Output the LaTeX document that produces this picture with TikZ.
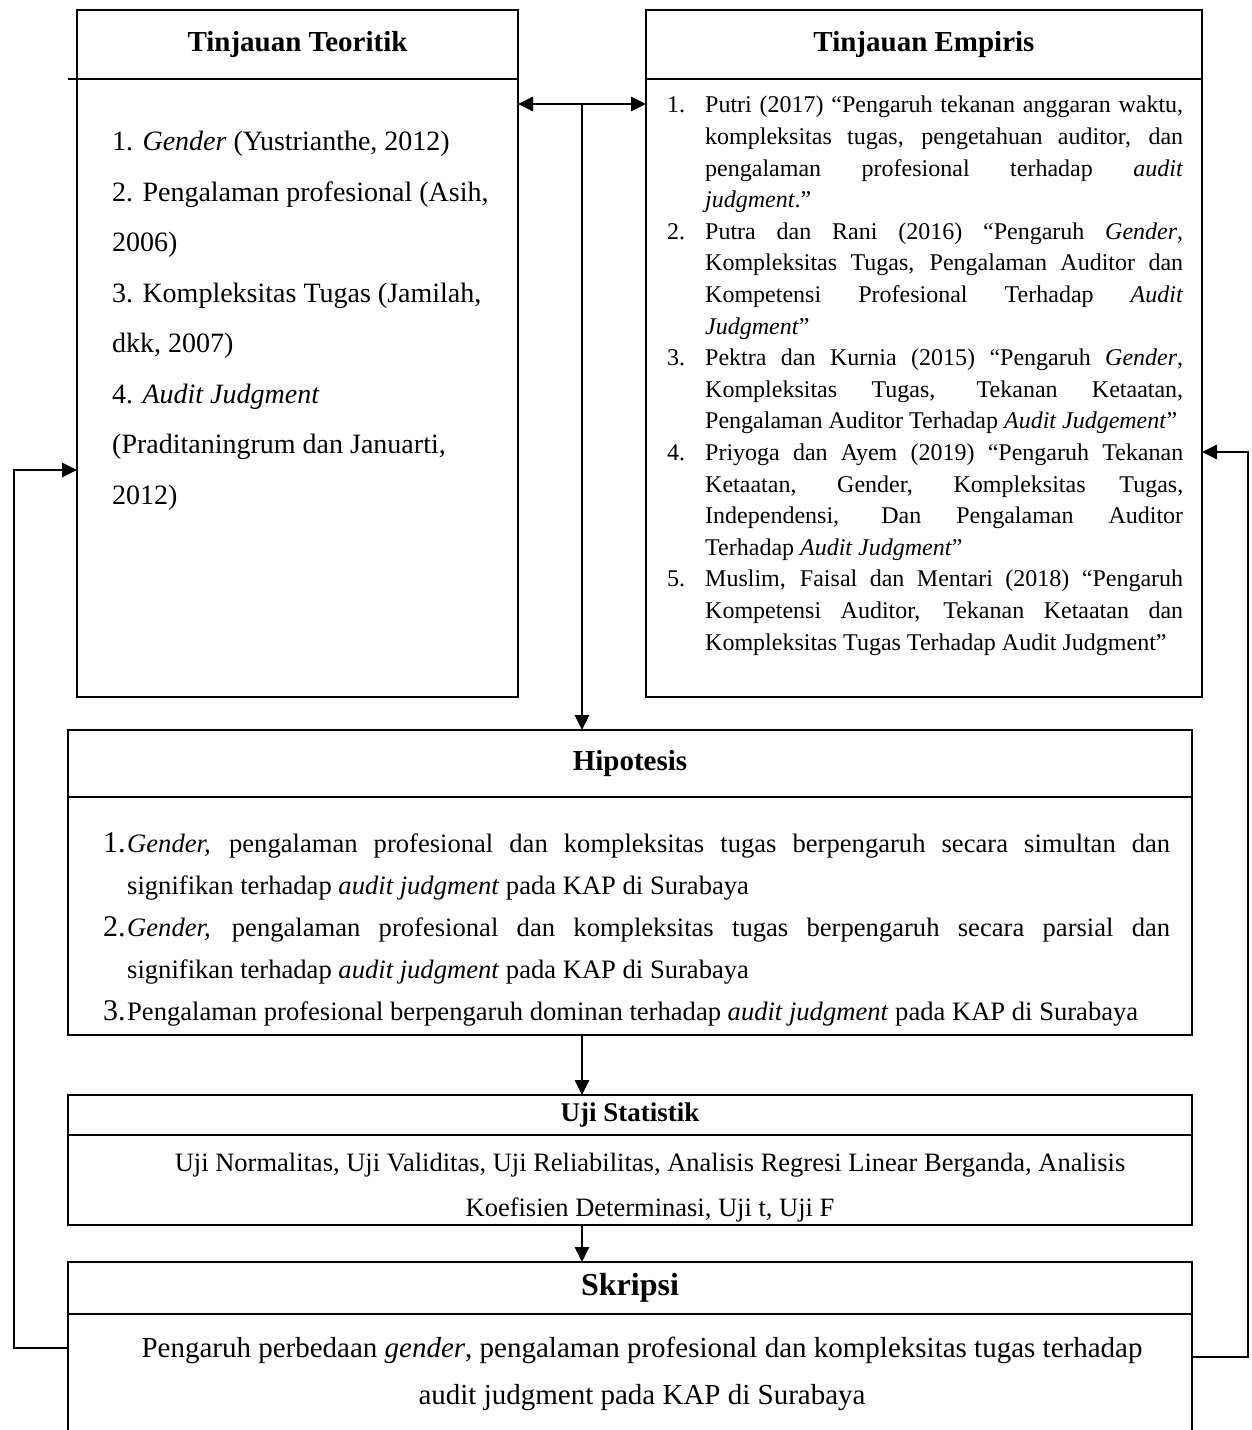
\documentclass[tikz,border=0pt]{standalone}
\usepackage{fontspec}
\setmainfont{Liberation Serif}
\usepackage{tikz}
\usetikzlibrary{positioning, calc, arrows.meta}

\newcommand{\numitem}[3]{\tolerance=10000\hyphenpenalty=10000\par\hangindent=#1\hangafter=1\noindent\makebox[#1][l]{#2}#3\par}

\begin{document}
\begin{tikzpicture}
    [x=1pt, y=-1pt,
    headbox/.style={rectangle, draw=black, line width=2.8pt, inner sep=0pt, outer sep=0pt, font=\fontsize{29}{33}\selectfont\bfseries},
    bodybox/.style={rectangle, draw=black, line width=2.8pt, inner sep=0pt, outer sep=0pt},
    bodytext/.style={inner sep=0pt, anchor=north west},
    line/.style={line width=2.8pt},
    >={Triangle[length=15pt, width=14pt]},]

    \useasboundingbox (0,0) rectangle (1252,1430);
    \clip (0,0) rectangle (1252,1430);

    %Nodes
    \node[headbox, minimum width=441pt, minimum height=69pt, anchor=north west](TThead) at (77,10){Tinjauan Teoritik};
    \node[bodybox, minimum width=441pt, minimum height=618pt](TTbody)[below=0pt of TThead]{};

    \node[headbox, minimum width=556pt, minimum height=69pt](TEhead)[right=128pt of TThead]{Tinjauan Empiris};
    \node[bodybox, minimum width=556pt, minimum height=618pt](TEbody)[below=0pt of TEhead]{};

    \node[headbox, minimum width=1124pt, minimum height=67pt, anchor=north west](HIhead) at (68,730){Hipotesis};
    \node[bodybox, minimum width=1124pt, minimum height=238pt](HIbody)[below=0pt of HIhead]{};

    \node[headbox, font=\fontsize{27}{31}\selectfont\bfseries, minimum width=1124pt, minimum height=40pt](UJhead)[below=60pt of HIbody]{Uji Statistik};
    \node[bodybox, minimum width=1124pt, minimum height=90pt](UJbody)[below=0pt of UJhead]{};

    \node[headbox, font=\fontsize{32}{36}\selectfont\bfseries, minimum width=1124pt, minimum height=52pt](SKhead)[below=37pt of UJbody]{Skripsi};
    \node[bodybox, minimum width=1124pt, minimum height=200pt](SKbody)[below=0pt of SKhead]{};

    %Lines
    \draw[line](TThead.south west)--++(-9,0);

    \coordinate (arrL) at ([yshift=-25pt]TTbody.north east);
    \coordinate (arrR) at (arrL -| TEbody.west);
    \coordinate (arrM) at ($(arrL)!0.5!(arrR)$);
    \draw[line, <->](arrL)--(arrR);
    \draw[line, ->](arrM)--(arrM |- HIhead.north);
    \draw[line, ->](arrM |- HIbody.south)--(arrM |- UJhead.north);
    \draw[line, ->](arrM |- UJbody.south)--(arrM |- SKhead.north);

    \coordinate (fbSKL) at ([yshift=-34pt]SKbody.north west);
    \coordinate (fbTT) at ([yshift=-391pt]TTbody.north west);
    \draw[line, ->](fbSKL)--++(-54,0) |- (fbTT);
    \coordinate (fbSKR) at ([yshift=-43pt]SKbody.north east);
    \coordinate (fbTE) at ([yshift=-373pt]TEbody.north east);
    \draw[line, ->](fbSKR)--++(56,0) |- (fbTE);

    %Labels
    \node[bodytext, align=left, font=\fontsize{28}{50.5}\selectfont](TTtext)[below right=52pt and 35pt of TThead.south west]{1. \textit{Gender} (Yustrianthe, 2012)\\
        2. Pengalaman profesional (Asih,\\
        2006)\\
        3. Kompleksitas Tugas (Jamilah,\\
        dkk, 2007)\\
        4. \textit{Audit Judgment}\\
        (Praditaningrum dan Januarti,\\
        2012)};

    \node[bodytext, text width=516pt, align=justify, font=\fontsize{24}{31.6}\selectfont](TEtext)[below right=2pt and 21pt of TEhead.south west]{%
        \numitem{38pt}{1.}{Putri (2017) “Pengaruh tekanan anggaran waktu,\linebreak kompleksitas tugas, pengetahuan auditor, dan\linebreak pengalaman profesional terhadap \textit{audit}\linebreak \textit{judgment}.”}
        \numitem{38pt}{2.}{Putra dan Rani (2016) “Pengaruh \textit{Gender},\linebreak Kompleksitas Tugas, Pengalaman Auditor dan\linebreak Kompetensi Profesional Terhadap \textit{Audit}\linebreak \textit{Judgment}”}
        \numitem{38pt}{3.}{Pektra dan Kurnia (2015) “Pengaruh \textit{Gender},\linebreak Kompleksitas Tugas, Tekanan Ketaatan,\linebreak Pengalaman Auditor Terhadap \textit{Audit Judgement}”}
        \numitem{38pt}{4.}{Priyoga dan Ayem (2019) “Pengaruh Tekanan\linebreak Ketaatan, Gender, Kompleksitas Tugas,\linebreak Independensi, Dan Pengalaman Auditor\linebreak Terhadap \textit{Audit Judgment}”}
        \numitem{38pt}{5.}{Muslim, Faisal dan Mentari (2018) “Pengaruh\linebreak Kompetensi Auditor, Tekanan Ketaatan dan\linebreak Kompleksitas Tugas Terhadap Audit Judgment”}};

    \node[bodytext, text width=1067pt, align=justify, font=\fontsize{26.6}{42}\selectfont](HItext)[below right=13pt and 35pt of HIhead.south west]{%
        \numitem{24pt}{\fontsize{30}{42}\selectfont 1.}{\textit{Gender,} pengalaman profesional dan kompleksitas tugas berpengaruh secara simultan dan\linebreak signifikan terhadap \textit{audit judgment} pada KAP di Surabaya}
        \numitem{24pt}{\fontsize{30}{42}\selectfont 2.}{\textit{Gender,} pengalaman profesional dan kompleksitas tugas berpengaruh secara parsial dan\linebreak signifikan terhadap \textit{audit judgment} pada KAP di Surabaya}
        \numitem{24pt}{\fontsize{30}{42}\selectfont 3.}{Pengalaman profesional berpengaruh dominan terhadap \textit{audit judgment} pada KAP di Surabaya}};

    \node[inner sep=0pt, align=center, font=\fontsize{26.5}{45}\selectfont](UJtext) at ([xshift=20pt, yshift=-8pt]UJbody.center){Uji Normalitas, Uji Validitas, Uji Reliabilitas, Analisis Regresi Linear Berganda, Analisis\\
        Koefisien Determinasi, Uji t, Uji F};

    \node[inner sep=0pt, align=center, font=\fontsize{29}{47}\selectfont](SKtext) at ([xshift=12pt, yshift=-60pt]SKhead.south){Pengaruh perbedaan \textit{gender}, pengalaman profesional dan kompleksitas tugas terhadap\\
        audit judgment pada KAP di Surabaya};

\end{tikzpicture}
\end{document}
